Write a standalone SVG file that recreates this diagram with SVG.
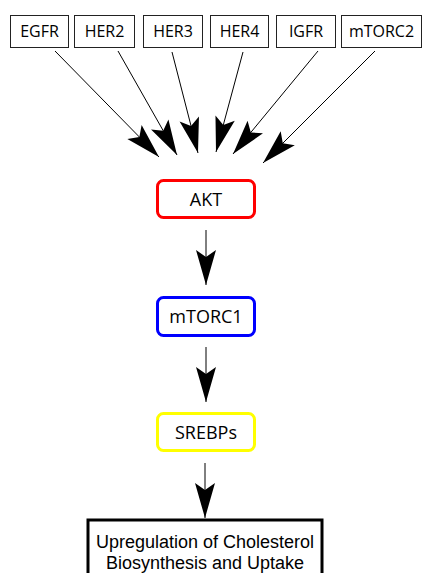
<svg xmlns="http://www.w3.org/2000/svg" width="424" height="573" viewBox="0 0 424 573">
  <defs>
    <style>
      .src rect { fill: #fff; stroke: #222; stroke-width: 1; }
      .src text { font-family: "Open Sans", "Liberation Sans", sans-serif; font-size: 16px; fill: #000; text-anchor: middle; }
      .hub rect { fill: #fff; stroke-width: 3; }
      .hub text { font-family: "Open Sans", "Liberation Sans", sans-serif; font-size: 18px; fill: #000; text-anchor: middle; }
      .out rect { fill: #fff; stroke: #000; stroke-width: 3; }
      .out text { font-family: "Liberation Sans", Arial, sans-serif; font-size: 18px; fill: #000; text-anchor: middle; }
      .edges line { stroke: #000; stroke-width: 1; marker-end: url(#head); }
    </style>
    <!-- barbed arrowhead, tip at the line end -->
    <marker id="head" markerUnits="userSpaceOnUse" viewBox="-36 -11 37 22" refX="0" refY="0" markerWidth="37" markerHeight="22" orient="auto" overflow="visible">
      <path d="M0,0 L-35,-10 L-28,0 L-35,10 Z" fill="#000"/>
    </marker>
  </defs>
  <rect width="424" height="573" fill="#fff"/>

  <!-- upstream receptors / kinases -->
  <g id="egfr" class="src"><rect x="10.5" y="15.5" width="58" height="32"/><text x="39.5" y="37">EGFR</text></g>
  <g id="her2" class="src"><rect x="74.5" y="15.5" width="60" height="32"/><text x="104.5" y="37">HER2</text></g>
  <g id="her3" class="src"><rect x="143.5" y="15.5" width="59" height="32"/><text x="173" y="37">HER3</text></g>
  <g id="her4" class="src"><rect x="210.5" y="15.5" width="58" height="32"/><text x="239.5" y="37">HER4</text></g>
  <g id="igfr" class="src"><rect x="276.5" y="15.5" width="59" height="32"/><text x="306" y="37">IGFR</text></g>
  <g id="mtorc2" class="src"><rect x="341.5" y="15.5" width="80" height="32"/><text x="381.5" y="37">mTORC2</text></g>

  <!-- signalling chain -->
  <g id="akt" class="hub"><rect x="157.5" y="180.5" width="97" height="37" rx="6" stroke="#ff0000"/><text x="206" y="206">AKT</text></g>
  <g id="mtorc1" class="hub"><rect x="157.5" y="297.5" width="97" height="38" rx="6" stroke="#0000ff"/><text x="206" y="323">mTORC1</text></g>
  <g id="srebps" class="hub"><rect x="157.5" y="413.5" width="97" height="37" rx="6" stroke="#ffff00"/><text x="206" y="439">SREBPs</text></g>

  <!-- outcome -->
  <g id="outcome" class="out">
    <rect x="88" y="520" width="234" height="62"/>
    <text x="205" y="548">Upregulation of Cholesterol</text>
    <text x="205" y="569">Biosynthesis and Uptake</text>
  </g>

  <g id="connectors" class="edges">
    <line x1="55" y1="51" x2="159" y2="157"/>
    <line x1="118" y1="51" x2="177" y2="155"/>
    <line x1="172" y1="52" x2="198" y2="153"/>
    <line x1="243" y1="52" x2="216" y2="152"/>
    <line x1="318" y1="51" x2="233" y2="154"/>
    <line x1="375" y1="51" x2="263" y2="163"/>
    <line x1="206" y1="230" x2="206" y2="285"/>
    <line x1="206" y1="347" x2="206" y2="402"/>
    <line x1="205" y1="463" x2="205" y2="518"/>
  </g>
</svg>
